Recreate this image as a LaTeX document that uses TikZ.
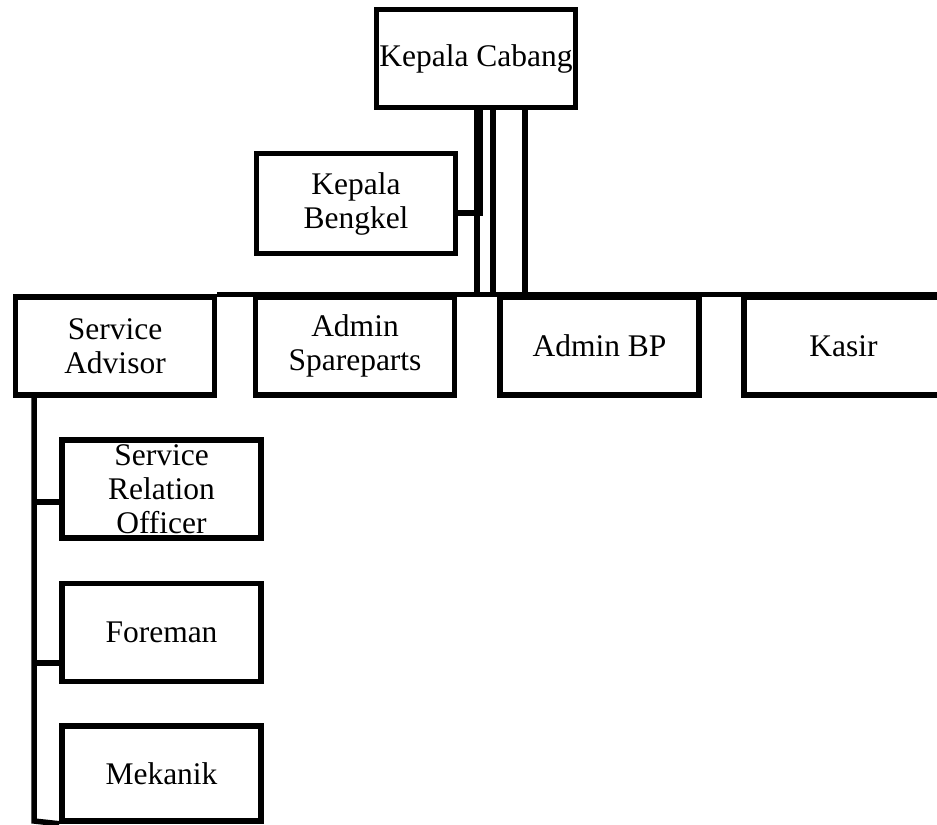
\documentclass[tikz,border=0pt]{standalone}
\usepackage{fontspec}
\setmainfont{Liberation Serif}
\begin{document}
\begin{tikzpicture}[x=1bp,y=-1bp,
  box/.style={draw, line width=5.5bp, minimum width=199bp, minimum height=98bp,
    inner sep=0pt, align=center, font=\fontsize{31.5bp}{34bp}\selectfont, anchor=center},
  wire/.style={line width=5.5bp}]
\useasboundingbox (0,0) rectangle (937,825);
\clip (0,0) rectangle (937,825);
% nodes
\node[box] (KC) at (476,58.5) {Kepala Cabang};
\node[box, minimum height=100bp] (KB) at (356,203.5) {Kepala\\Bengkel};
\node[box] (SA) at (115,346) {Service\\Advisor};
\node[box] (AS) at (355,346) {Admin\\Spareparts};
\node[box] (ABP) at (599.5,346) {Admin BP};
\node[box] (KS) at (843.5,346) {Kasir};
\node[box] (SRO) at (161.5,489) {Service\\Relation\\Officer};
\node[box] (FM) at (161.5,632.5) {Foreman};
\node[box, minimum height=95bp] (MK) at (161.5,773.5) {Mekanik};
% connectors from Kepala Cabang
\coordinate (kbj) at (480,213);
\draw[wire] (KB.east |- kbj) -- (kbj) -- (kbj |- KC.south);
\coordinate (b1) at (477,295);
\coordinate (b2) at (493,295);
\coordinate (b3) at (525,295);
\draw[wire] (b1 |- KC.south) -- (b1);
\draw[wire] (b2 |- KC.south) -- (b2);
\draw[wire] (b3 |- KC.south) -- (b3);
% horizontal bus
\draw[wire] (SA.north east) -- (KS.north east);
% left column
\coordinate (lc) at (34,821);
\coordinate (j1) at (34,502);
\coordinate (j2) at (34,663);
\draw[wire] (lc |- SA.south) -- (lc) -- (MK.south west);
\draw[wire] (j1) -- (SRO.west |- j1);
\draw[wire] (j2) -- (FM.west |- j2);
\end{tikzpicture}
\end{document}
